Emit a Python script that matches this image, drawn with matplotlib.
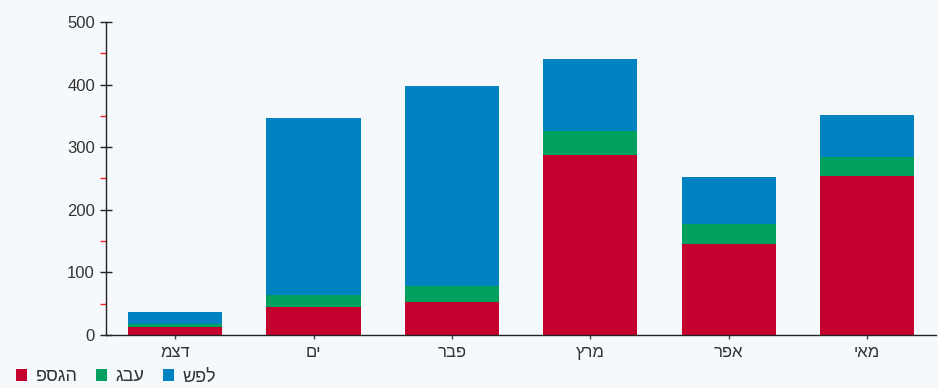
import numpy as np
import matplotlib
matplotlib.use("Agg")
import matplotlib.pyplot as plt
from matplotlib.patches import Patch
from matplotlib.ticker import MultipleLocator

plt.rcParams['font.family'] = ['Liberation Sans', 'DejaVu Sans']

# month labels (logical Hebrew order, reversed for drawing since matplotlib has no bidi)
months = ["דצמ", "ים", "פבר", "מרץ", "אפר", "מאי"]
# legend labels are shown in the original without RTL shaping
series_names = ["פסגה", "גבע", "שפל"]

peak = [12, 44, 53, 287, 146, 254]
mid = [6, 19, 25, 39, 32, 30]
low = [19, 283, 320, 115, 74, 67]

colors = ["#c4002f", "#00a05e", "#0083c0"]


def vis(s):
    return s[::-1]


fig = plt.figure(figsize=(9.38, 3.88), dpi=100, facecolor="#f6f9fb")
ax = fig.add_axes([0.113, 0.137, 0.885, 0.806])
ax.set_facecolor("none")

x = np.arange(len(months))
bottom = np.zeros(len(months))
for vals, col in zip([peak, mid, low], colors):
    ax.bar(x, vals, 0.68, bottom=bottom, color=col, edgecolor="none", zorder=2)
    bottom += np.array(vals)

ax.set_xlim(-0.5, len(months) - 0.5)
ax.set_ylim(0, 500)
ax.yaxis.set_major_locator(MultipleLocator(100))
ax.yaxis.set_minor_locator(MultipleLocator(50))
ax.set_xticks(x)
ax.set_xticklabels([vis(m) for m in months])

for s in ["top", "right"]:
    ax.spines[s].set_visible(False)
for s in ["left", "bottom"]:
    ax.spines[s].set_color("#222222")
    ax.spines[s].set_linewidth(1.0)

ax.tick_params(axis="y", which="major", direction="inout", length=8, width=1,
               color="#222222", labelsize=12, labelcolor="#333333", pad=4)
ax.tick_params(axis="y", which="minor", direction="out", length=4, width=1,
               color="#ff2020")
ax.tick_params(axis="x", which="major", direction="out", length=3, width=1,
               color="#444444", labelsize=12, labelcolor="#333333", pad=4)

handles = [Patch(facecolor=c, edgecolor="none") for c in colors]
fig.legend(handles, series_names, loc="lower left",
           bbox_to_anchor=(0.0, -0.035), ncol=3, frameon=False, fontsize=13,
           handlelength=0.6, handleheight=0.6, handletextpad=0.5,
           columnspacing=1.0, labelcolor="#333333")

fig.savefig("out.png", dpi=100, facecolor=fig.get_facecolor())
